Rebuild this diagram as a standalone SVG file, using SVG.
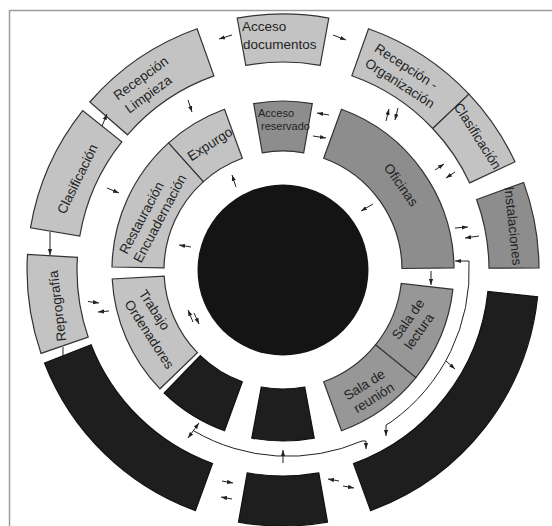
<svg xmlns="http://www.w3.org/2000/svg" width="552" height="526" viewBox="0 0 552 526">
<style>
.light{fill:#c3c3c3;stroke:#333;stroke-width:1.2}
.dark{fill:#8d8d8d;stroke:#333;stroke-width:1.2}
.mid{fill:#979797;stroke:#333;stroke-width:1.2}
.black{fill:#1e1e1e;stroke:#111;stroke-width:1.2}
text{font-family:"Liberation Sans",Arial,sans-serif;font-size:13.5px;fill:#232323}
.small{font-size:11px}
.mc{text-anchor:middle}
.conn{fill:none;stroke:#222;stroke-width:1}
</style>
<defs>
<marker id="ah" viewBox="0 0 10 10" refX="10" refY="5" markerWidth="6" markerHeight="6" markerUnits="userSpaceOnUse" orient="auto-start-reverse"><path d="M0,1.5 L10,5 L0,8.5 Z" fill="#222"/></marker>
</defs>
<rect x="0" y="0" width="552" height="526" fill="#fff"/>
<rect x="9.5" y="10.5" width="600" height="600" fill="none" stroke="#9c9c9c" stroke-width="1.5"/>

<g id="centro"><circle cx="283" cy="270" r="85.5" fill="#141414"/></g>

<g id="acceso-documentos">
<path class="light" d="M237.2,18.1 A256,256 0 0 1 328.8,18.1 L320.2,65.4 A208,208 0 0 0 245.8,65.4 Z"/>
<text x="242" y="31">Acceso</text><text x="243" y="49">documentos</text>
</g>
<g id="recepcion-organizacion">
<path class="light" d="M368.5,28.7 A256,256 0 0 1 469,94.1 L432.7,128.5 A206,206 0 0 0 351.8,75.8 Z"/>
<g transform="translate(376,47) rotate(33)"><text x="0" y="4.5">Recepción -</text><text x="0" y="22">Organización</text></g>
</g>
<g id="clasificacion-derecha">
<path class="light" d="M469,94.1 A256,256 0 0 1 515,161.8 L469.7,182.9 A206,206 0 0 0 432.7,128.5 Z"/>
<text class="mc" transform="translate(477.5,136) rotate(57.5)" y="4.5">Clasificación</text>
</g>
<g id="instalaciones">
<path class="dark" d="M523.6,182.4 A256,256 0 0 1 539,267.8 L489,268.2 A206,206 0 0 0 476.6,199.5 Z"/>
<text class="mc" transform="translate(513,226) rotate(84)" y="4.5">Instalaciones</text>
</g>
<g id="deposito-derecha">
<path class="black" d="M537.6,296.8 A256,256 0 0 1 370.6,510.6 L353.5,463.6 A206,206 0 0 0 487.9,291.5 Z"/>
</g>
<g id="deposito-abajo">
<path class="black" d="M327.5,522.1 A256,256 0 0 1 238.5,522.1 L247.2,472.9 A206,206 0 0 0 318.8,472.9 Z"/>
</g>
<g id="deposito-izquierda">
<path class="black" d="M195.4,510.6 A256,256 0 0 1 44.5,363 L91.1,344.8 A206,206 0 0 0 212.5,463.6 Z"/>
</g>
<g id="reprografia">
<path class="light" d="M41,353.4 A256,256 0 0 1 27.5,254.4 L77.4,257.4 A206,206 0 0 0 88.2,337.1 Z"/>
<text class="mc" transform="translate(57.5,306) rotate(-97)" y="4.5">Reprografía</text>
</g>
<g id="clasificacion-izquierda">
<path class="light" d="M30.5,227.8 A256,256 0 0 1 82.7,110.6 L121.8,141.8 A206,206 0 0 0 79.8,236 Z"/>
<text class="mc" transform="translate(77.5,179) rotate(-64)" y="4.5">Clasificación</text>
</g>
<g id="recepcion-limpieza">
<path class="light" d="M89.8,102 A256,256 0 0 1 197.1,28.8 L213.9,75.9 A206,206 0 0 0 127.5,134.8 Z"/>
<g transform="translate(115,97) rotate(-36)"><text x="0" y="4.5">Recepción</text><text x="1.5" y="22">Limpieza</text></g>
</g>

<g id="oficinas">
<path class="dark" d="M341.5,109.3 A171,171 0 0 1 454,267.9 L402,268.5 A119,119 0 0 0 323.7,158.2 Z"/>
<text class="mc" transform="translate(401,185) rotate(55)" y="4.5">Oficinas</text>
</g>
<g id="sala-lectura">
<path class="mid" d="M452.9,289.4 A171,171 0 0 1 415.9,377.6 L375.5,344.9 A119,119 0 0 0 401.2,283.5 Z"/>
<g transform="translate(395,338) rotate(-55)"><text x="0" y="4.5">Sala de</text><text x="-1" y="20.5">lectura</text></g>
</g>
<g id="sala-reunion">
<path class="mid" d="M415.9,377.6 A171,171 0 0 1 341.5,430.7 L323.7,381.8 A119,119 0 0 0 375.5,344.9 Z"/>
<g transform="translate(345,397) rotate(-32)"><text x="0" y="4.5">Sala de</text><text x="1.5" y="20.5">reunión</text></g>
</g>
<g id="bloque-abajo">
<path class="black" d="M314.2,438.1 A171,171 0 0 1 251.8,438.1 L261.3,387 A119,119 0 0 0 304.7,387 Z"/>
</g>
<g id="bloque-abajo-izquierda">
<path class="black" d="M224.5,430.7 A171,171 0 0 1 164.2,393 L200.3,355.6 A119,119 0 0 0 242.3,381.8 Z"/>
</g>
<g id="trabajo-ordenadores">
<path class="light" d="M160,388.8 A171,171 0 0 1 112.2,279 L164.2,276.2 A119,119 0 0 0 197.4,352.7 Z"/>
<g transform="translate(142,291) rotate(57)"><text x="0" y="4.5">Trabajo</text><text x="1" y="22">Ordenadores</text></g>
</g>
<g id="restauracion">
<path class="light" d="M112,267 A171,171 0 0 1 168.6,142.9 L203.4,181.6 A119,119 0 0 0 164,267.9 Z"/>
<g transform="translate(123,253) rotate(-62)"><text x="0" y="4.5">Restauración</text><text x="-1" y="21">Encuadernación</text></g>
</g>
<g id="expurgo">
<path class="light" d="M168.6,142.9 A171,171 0 0 1 224.5,109.3 L242.3,158.2 A119,119 0 0 0 203.4,181.6 Z"/>
<text class="mc" transform="translate(210,144) rotate(-33)" y="4.5">Expurgo</text>
</g>
<g id="acceso-reservado">
<path class="dark" d="M253.7,103.6 A169,169 0 0 1 312.3,103.6 L303.7,152.8 A119,119 0 0 0 262.3,152.8 Z"/>
<text class="small" x="258" y="117">Acceso</text><text class="small" x="261" y="130">reservado</text>
</g>

<g id="connectors" class="conn">
<line x1="232" y1="35" x2="219" y2="39" marker-end="url(#ah)"/>
<line x1="333" y1="35" x2="346" y2="40" marker-end="url(#ah)"/>
<line x1="188" y1="100" x2="192" y2="112" marker-end="url(#ah)"/>
<line x1="102" y1="126" x2="107" y2="114" marker-end="url(#ah)"/>
<line x1="107" y1="188" x2="119" y2="193" marker-end="url(#ah)"/>
<line x1="191" y1="247" x2="179" y2="245" marker-end="url(#ah)"/>
<line x1="236" y1="187" x2="232" y2="175" marker-end="url(#ah)"/>
<line x1="50" y1="232" x2="50" y2="255" marker-end="url(#ah)"/>
<line x1="63" y1="347" x2="63" y2="356"/>
<line x1="88" y1="301.5" x2="99" y2="303" marker-end="url(#ah)"/>
<line x1="109" y1="311" x2="98" y2="312" marker-end="url(#ah)"/>
<line x1="193" y1="322" x2="188" y2="310" marker-end="url(#ah)"/>
<line x1="194" y1="313" x2="199" y2="324" marker-end="url(#ah)"/>
<line x1="329" y1="115" x2="317" y2="113" marker-end="url(#ah)"/>
<line x1="313" y1="136" x2="326" y2="138" marker-end="url(#ah)"/>
<line x1="386" y1="121" x2="389" y2="109" marker-end="url(#ah)"/>
<line x1="398" y1="108" x2="395" y2="120" marker-end="url(#ah)"/>
<line x1="435" y1="170" x2="444" y2="164" marker-end="url(#ah)"/>
<line x1="455" y1="172" x2="446" y2="178" marker-end="url(#ah)"/>
<line x1="373" y1="204" x2="361" y2="211" marker-end="url(#ah)"/>
<line x1="455" y1="228" x2="468" y2="227" marker-end="url(#ah)"/>
<line x1="479" y1="236" x2="465" y2="238" marker-end="url(#ah)"/>
<line x1="431" y1="271" x2="431" y2="285" marker-end="url(#ah)"/>
<path d="M455,261 L469,261 A186,186 0 0 1 391,422 L386,425 L386,436" marker-start="url(#ah)" marker-end="url(#ah)"/>
<line x1="446" y1="361" x2="455" y2="369" marker-end="url(#ah)"/>
<path d="M194,431 A187,187 0 0 0 362,441 L366,441 L366,449" marker-end="url(#ah)"/>
<line x1="199" y1="423" x2="188" y2="438" marker-start="url(#ah)" marker-end="url(#ah)"/>
<line x1="283" y1="463" x2="283" y2="450" marker-end="url(#ah)"/>
<line x1="222" y1="481" x2="233" y2="483" marker-end="url(#ah)"/>
<line x1="232" y1="499" x2="221" y2="497" marker-end="url(#ah)"/>
<line x1="339" y1="481" x2="328" y2="479" marker-end="url(#ah)"/>
<line x1="343" y1="486" x2="354" y2="488" marker-end="url(#ah)"/>
</g>
</svg>
